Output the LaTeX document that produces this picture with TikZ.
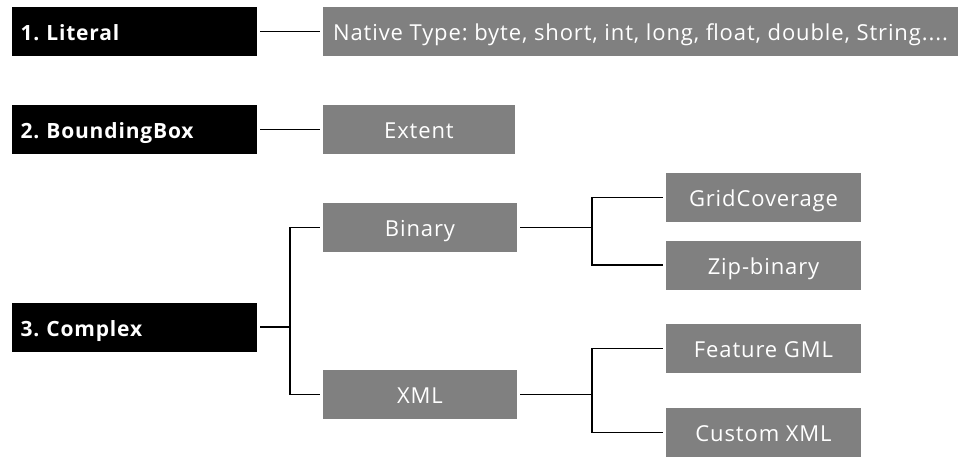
\documentclass[tikz,border=0pt]{standalone}
\usepackage{fontspec}
\setmainfont{Open Sans}[LetterSpace=4]
\frenchspacing
\usetikzlibrary{shadows,backgrounds}
\definecolor{boxgray}{RGB}{128,128,128}
\begin{document}
\begin{tikzpicture}[x=1pt,y=-1pt,
  box/.style={draw=white, line width=3pt, minimum height=52pt, inner sep=0pt,
    text height=20pt, text depth=2pt,
    text=white, font=\fontsize{22}{25}\selectfont,
    drop shadow={shadow xshift=0.8pt, shadow yshift=-1.8pt, opacity=0.25, fill=black}},
  darkbox/.style={box, fill=black, font=\bfseries\fontsize{21}{24}\selectfont,
    inner xsep=10pt, text width=228pt, align=left},
  lightbox/.style={box, fill=boxgray},
  conn/.style={draw=black, line width=1.2pt}]
\useasboundingbox (0,0) rectangle (967,468);
\node[darkbox] (lit) at (134.5,31.5) {1. Literal};
\node[darkbox] (bbox) at (134.5,129.5) {2. BoundingBox};
\node[darkbox] (cpx) at (134.5,327) {3. Complex};
\node[lightbox, minimum width=638pt] (nat) at (640.5,31.5) {Native Type: byte, short, int, long, float, double, String....};
\node[lightbox, minimum width=195pt] (ext) at (419,129.5) {Extent};
\node[lightbox, minimum width=197pt] (bin) at (420,227.5) {Binary};
\node[lightbox, minimum width=197pt] (xml) at (420,394.5) {XML};
\node[lightbox, minimum width=198pt] (grid) at (763.5,197.5) {GridCoverage};
\node[lightbox, minimum width=198pt] (zip) at (763.5,265) {Zip-binary};
\node[lightbox, minimum width=198pt] (feat) at (763.5,348.5) {Feature GML};
\node[lightbox, minimum width=198pt] (cust) at (763.5,432.5) {Custom XML};
\coordinate (t1) at (290,327);
\coordinate (t2) at (592,227.5);
\coordinate (t3) at (592,394.5);
\begin{scope}[on background layer]
\draw[conn] (lit.east) -- (nat.west);
\draw[conn] (bbox.east) -- (ext.west);
\draw[conn] (cpx.east) -- (t1) |- (bin.west);
\draw[conn] (t1) |- (xml.west);
\draw[conn] (bin.east) -- (t2) |- (grid.west);
\draw[conn] (t2) |- (zip.west);
\draw[conn] (xml.east) -- (t3) |- (feat.west);
\draw[conn] (t3) |- (cust.west);
\end{scope}
\end{tikzpicture}
\end{document}
